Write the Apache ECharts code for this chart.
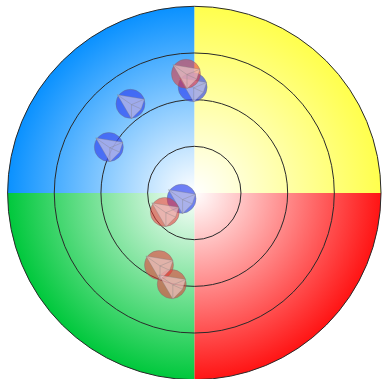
<!DOCTYPE html>
<html>
<head>
<meta charset="utf-8">
<style>
  html, body { margin: 0; padding: 0; background: #fff; }
  #chart { width: 382px; height: 379px; }
</style>
<script src="https://cdn.jsdelivr.net/npm/echarts@6/dist/echarts.min.js"></script>
</head>
<body>
<div id="chart"></div>
<script>
// quadrants clockwise from the top
const quadrants = ['yellow', 'red', 'green', 'blue']
const quadrantColors = ['#ffff4d', '#ff1414', '#00c83c', '#0a91ff']
const ringTicks = [0, 1, 2, 3, 4]

// [radius, angle clockwise from top]
const bluePoints = [[2.27, 359.1], [2.35, 324.4], [2.08, 298.3], [0.30, 245.7]]
const redPoints = [[2.56, 356], [0.75, 237.3], [1.72, 206.1], [2.01, 193.9]]

const cx = 194.3
const cy = 193
const outer = 186.7

// kite glyph on every dot, inner lines are zero-area subpaths so they only stroke
const kite = 'M0,0 L25,4 L22,13 L13,22 Z'
const kiteLines = 'M13,9 L0,0 M13,9 L25,4 M13,9 L22,13 M13,9 L13,22'

function quadrantFill(color) {
  return {
    type: 'radial', x: cx, y: cy, r: outer, global: true,
    colorStops: [
      { offset: 0, color: '#ffffff' },
      { offset: 1, color: color }
    ]
  }
}

function dotSeries(points, color) {
  return {
    type: 'scatter', coordinateSystem: 'polar', data: points, z: 5,
    symbol: 'circle', symbolSize: 29, silent: true,
    itemStyle: { color: color, borderColor: 'rgba(110,110,110,0.45)', borderWidth: 1 }
  }
}

function glyphSeries(points, color) {
  return {
    type: 'scatter', coordinateSystem: 'polar', data: points, z: 5,
    symbol: 'path://' + kite + ' ' + kiteLines, symbolSize: [27, 24], symbolOffset: [0.5, 3], silent: true,
    itemStyle: { color: color, borderColor: 'rgba(125,125,125,0.6)', borderWidth: 0.7 }
  }
}

const chart = echarts.init(document.getElementById('chart'), null, { renderer: 'canvas' })
chart.setOption({
  animation: false,
  backgroundColor: '#fff',
  polar: { center: [cx, cy], radius: outer },
  angleAxis: {
    type: 'value', min: 0, max: 360, startAngle: 90, clockwise: true,
    axisLine: { show: false }, axisTick: { show: false }, axisLabel: { show: false }, splitLine: { show: false }
  },
  radiusAxis: {
    type: 'value', min: ringTicks[0], max: ringTicks[ringTicks.length - 1], interval: 1, z: 3,
    axisLine: { show: false }, axisTick: { show: false }, axisLabel: { show: false },
    splitLine: { show: true, lineStyle: { color: '#2a2a2a', width: 1 } }
  },
  series: [
    {
      type: 'pie', center: [cx, cy], radius: [0, outer], startAngle: 90, clockwise: true, z: 1,
      silent: true, label: { show: false }, labelLine: { show: false },
      emphasis: { disabled: true },
      data: quadrants.map((name, i) => ({
        name, value: 1,
        itemStyle: { color: quadrantFill(quadrantColors[i]) }
      }))
    },
    dotSeries(bluePoints, 'rgba(50,70,240,0.85)'),
    glyphSeries(bluePoints, 'rgba(200,200,232,0.85)'),
    dotSeries(redPoints, 'rgba(235,50,50,0.7)'),
    glyphSeries(redPoints, 'rgba(240,205,205,0.8)')
  ]
})
</script>
</body>
</html>
